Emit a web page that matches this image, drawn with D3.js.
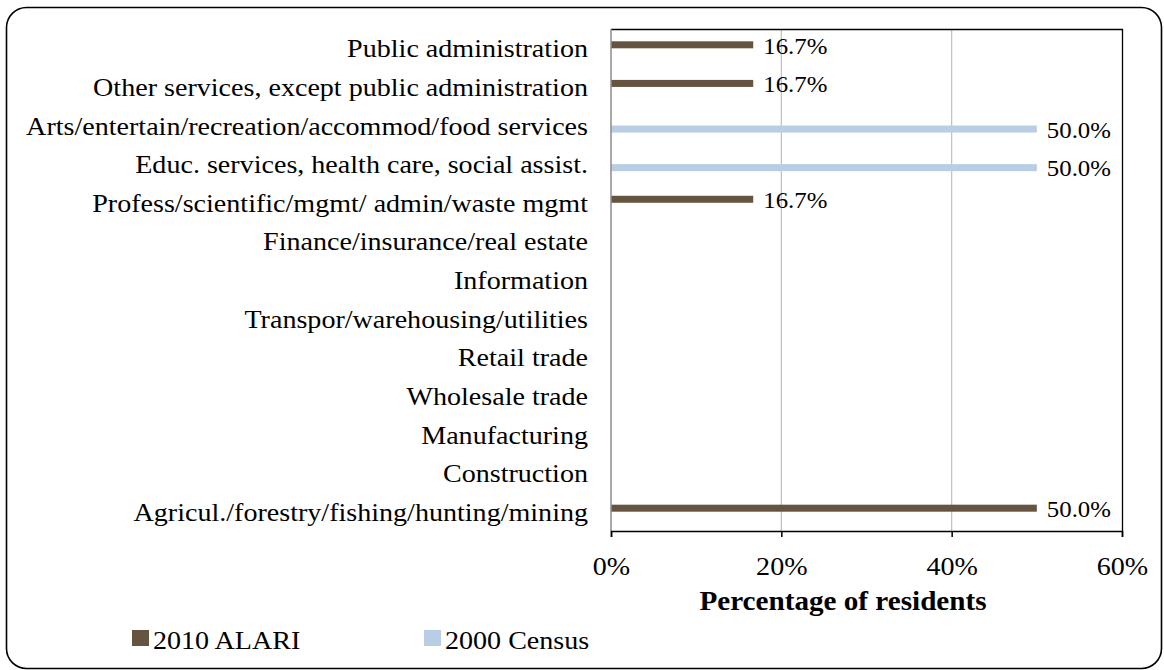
<!DOCTYPE html>
<html>
<head>
<meta charset="utf-8">
<script src="https://cdn.jsdelivr.net/npm/d3@7"></script>
<style>
  html, body { margin: 0; padding: 0; background: #fff; }
  svg { display: block; }
  text { font-family: "Liberation Serif", "Times New Roman", serif; fill: #000; }
</style>
</head>
<body>
<svg id="chart" width="1164" height="670"></svg>
<script>
const categories = [
  "Public administration",
  "Other services, except public administration",
  "Arts/entertain/recreation/accommod/food services",
  "Educ. services, health care, social assist.",
  "Profess/scientific/mgmt/ admin/waste mgmt",
  "Finance/insurance/real estate",
  "Information",
  "Transpor/warehousing/utilities",
  "Retail trade",
  "Wholesale trade",
  "Manufacturing",
  "Construction",
  "Agricul./forestry/fishing/hunting/mining"
];
const seriesNames = ["2010 ALARI", "2000 Census"];
const alari2010 = [16.7, 16.7, null, null, 16.7, null, null, null, null, null, null, null, 50.0];
const census2000 = [null, null, 50.0, 50.0, null, null, null, null, null, null, null, null, null];
const xTicks = [0, 20, 40, 60];
const colors = ["#65543F", "#B9CDE5"];

const SX = 1.08; // horizontal text stretch
const svg = d3.select("#chart");
const pLeft = 611, pRight = 1122, pTop = 29, pBottom = 531;

function stretchedText(parent, x, y) {
  return parent.append("text")
    .attr("transform", `translate(${x},${y}) scale(${SX},1)`)
    .attr("x", 0).attr("y", 0);
}

// outer rounded border
svg.append("rect")
  .attr("x", 6.5).attr("y", 7.5)
  .attr("width", 1155).attr("height", 661)
  .attr("rx", 20).attr("ry", 20)
  .attr("fill", "none").attr("stroke", "#000").attr("stroke-width", 1.6);

const x = d3.scaleLinear().domain([0, 60]).range([pLeft, pRight]);
const y0 = d3.scaleBand().domain(categories).range([pTop, pBottom])
  .paddingInner(0.637).paddingOuter(0.3185);
const y1 = d3.scaleBand().domain(seriesNames).range([0, y0.bandwidth()]);

// gridlines
svg.append("g").selectAll("line").data(xTicks.slice(1, -1)).join("line")
  .attr("x1", d => x(d)).attr("x2", d => x(d))
  .attr("y1", pTop).attr("y2", pBottom)
  .attr("stroke", "#BFBFBF").attr("stroke-width", 1.2);

// plot border top/right
svg.append("path")
  .attr("d", `M${pLeft},${pTop + 0.5}H${pRight + 0.5}V${pBottom}`)
  .attr("fill", "none").attr("stroke", "#000").attr("stroke-width", 1.3);

// bars + labels
const data = [alari2010, census2000];
data.forEach((vals, si) => {
  const g = svg.append("g");
  const pts = categories.map((c, i) => ({ c, v: vals[i] })).filter(d => d.v != null);
  g.selectAll("rect").data(pts).join("rect")
    .attr("x", x(0))
    .attr("y", d => y0(d.c) + y1(seriesNames[si]))
    .attr("width", d => x(d.v) - x(0))
    .attr("height", y1.bandwidth())
    .attr("fill", colors[si]);
  pts.forEach(d => {
    stretchedText(g, x(d.v) + 10, y0(d.c) + y1(seriesNames[si]) + y1.bandwidth() / 2)
      .attr("dy", "0.38em")
      .attr("font-size", 23)
      .text(d.v.toFixed(1) + "%");
  });
});

// left axis (gray)
svg.append("line")
  .attr("x1", pLeft).attr("x2", pLeft).attr("y1", pTop).attr("y2", pBottom)
  .attr("stroke", "#8C8C8C").attr("stroke-width", 1.5);

// category labels
const catG = svg.append("g");
categories.forEach(c => {
  stretchedText(catG, pLeft - 23, y0(c) + y0.bandwidth() / 2)
    .attr("dy", "0.35em")
    .attr("text-anchor", "end")
    .attr("font-size", 26)
    .text(c);
});

// x axis
const xAxis = d3.axisBottom(x).tickValues(xTicks).tickSize(6).tickPadding(20)
  .tickFormat(d => d + "%");
const ax = svg.append("g").attr("transform", `translate(0,${pBottom})`).call(xAxis);
ax.select(".domain").attr("stroke", "#000").attr("stroke-width", 1.5);
ax.selectAll(".tick line").attr("stroke", "#000").attr("stroke-width", 1.5);
ax.selectAll(".tick text")
  .attr("font-family", "Liberation Serif, Times New Roman, serif")
  .attr("font-size", 26).attr("fill", "#000")
  .attr("transform", `scale(${SX},1)`);

// axis title
stretchedText(svg, 843, 610)
  .attr("text-anchor", "middle")
  .attr("font-size", 27).attr("font-weight", "bold")
  .text("Percentage of residents");

// legend
const legendX = [132, 424];
seriesNames.forEach((s, i) => {
  svg.append("rect")
    .attr("x", legendX[i]).attr("y", 630)
    .attr("width", 17).attr("height", 16)
    .attr("fill", colors[i]);
  stretchedText(svg, legendX[i] + 21, 649)
    .attr("font-size", 26)
    .text(s);
});
</script>
</body>
</html>
